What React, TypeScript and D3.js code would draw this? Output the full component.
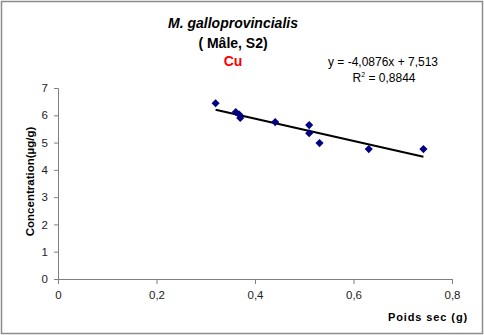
import { useEffect, useRef } from 'react'
import * as d3 from 'd3'

// --- DATA ---
const poidsSec = [0.32, 0.361, 0.368, 0.37, 0.441, 0.51, 0.51, 0.531, 0.631, 0.742]
const concentration = [6.44, 6.12, 6.03, 5.9, 5.75, 5.64, 5.34, 4.98, 4.76, 4.76]
const xTicks = [0, 0.2, 0.4, 0.6, 0.8]
const yTicks = [0, 1, 2, 3, 4, 5, 6, 7]
const slope = -4.0876
const intercept = 7.513

const fmt = (v: number) => String(v).replace('.', ',')

export default function App() {
  const svgRef = useRef<SVGSVGElement | null>(null)

  useEffect(() => {
    if (!svgRef.current) return
    const width = 484
    const height = 335
    const font = 'Liberation Sans, Arial, sans-serif'

    const svg = d3.select(svgRef.current)
    svg.selectAll('*').remove()
    svg.attr('width', width).attr('height', height)

    svg
      .append('rect')
      .attr('x', 1.5)
      .attr('y', 1.5)
      .attr('width', width - 3)
      .attr('height', height - 3)
      .attr('fill', '#fff')
      .attr('stroke', '#8c8c8c')
      .attr('stroke-width', 1.5)

    const x = d3.scaleLinear().domain([0, 0.8]).range([58, 452])
    const y = d3.scaleLinear().domain([0, 7]).range([279, 88])

    // --- AXES ---
    const xAxis = d3
      .axisBottom(x)
      .tickValues(xTicks)
      .tickSize(5)
      .tickPadding(7)
      .tickFormat((d) => fmt(d as number))
    const yAxis = d3
      .axisLeft(y)
      .tickValues(yTicks)
      .tickSize(4)
      .tickPadding(6)
      .tickFormat((d) => fmt(d as number))

    const gx = svg.append('g').attr('transform', `translate(0, ${y(0)})`).call(xAxis)
    const gy = svg.append('g').attr('transform', `translate(${x(0)}, 0)`).call(yAxis)
    ;[gx, gy].forEach((g) => {
      g.selectAll('path, line').attr('stroke', '#7f7f7f')
      g.selectAll('text')
        .attr('font-family', font)
        .attr('font-size', 11.5)
        .attr('fill', '#222')
    })

    // --- TREND LINE ---
    const [x0, x1] = d3.extent(poidsSec) as [number, number]
    svg
      .append('line')
      .attr('x1', x(x0))
      .attr('y1', y(slope * x0 + intercept))
      .attr('x2', x(x1))
      .attr('y2', y(slope * x1 + intercept))
      .attr('stroke', '#000')
      .attr('stroke-width', 2)

    // --- POINTS ---
    const diamond = d3.symbol().type(d3.symbolDiamond2).size(42)
    svg
      .append('g')
      .selectAll('path')
      .data(poidsSec.map((p, i) => ({ p, c: concentration[i] })))
      .enter()
      .append('path')
      .attr('d', diamond)
      .attr('transform', (d) => `translate(${x(d.p)}, ${y(d.c)})`)
      .attr('fill', '#000080')

    // --- TITLES ---
    const text = (tx: number, ty: number, s: string) =>
      svg
        .append('text')
        .attr('x', tx)
        .attr('y', ty)
        .attr('text-anchor', 'middle')
        .attr('font-family', font)
        .text(s)

    text(233, 28, 'M. galloprovincialis')
      .attr('font-size', 14)
      .attr('font-weight', 'bold')
      .attr('font-style', 'italic')
    text(233, 48, '( Mâle, S2)').attr('font-size', 14).attr('font-weight', 'bold')
    text(233, 66, 'Cu').attr('font-size', 14).attr('font-weight', 'bold').attr('fill', '#ff0000')

    text(383, 66, 'y = -4,0876x + 7,513').attr('font-size', 12)
    const r2 = text(384, 82, '').attr('font-size', 12)
    r2.append('tspan').text('R')
    r2.append('tspan').attr('font-size', 7).attr('dy', -5).text('2')
    r2.append('tspan').attr('dy', 5).text(' = 0,8844')

    text(0, 0, 'Concentration(µg/g)')
      .attr('transform', `translate(34, ${(y(0) + y(7)) / 2 - 2}) rotate(-90)`)
      .attr('font-size', 11.5)
      .attr('font-weight', 'bold')

    text(428, 321, 'Poids sec (g)')
      .attr('font-size', 11)
      .attr('font-weight', 'bold')
      .attr('letter-spacing', 0.9)
  }, [])

  return (
    <div style={{ position: 'absolute', left: 0, top: 0 }}>
      <svg ref={svgRef} />
    </div>
  )
}
